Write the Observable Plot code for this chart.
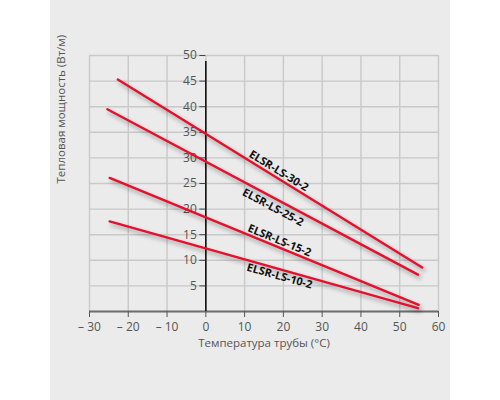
<!DOCTYPE html>
<html>
<head>
<meta charset="utf-8">
<script src="https://cdn.jsdelivr.net/npm/d3@7"></script>
<script src="https://cdn.jsdelivr.net/npm/@observablehq/plot@0.6"></script>
<style>
  html, body { margin: 0; padding: 0; background: #ffffff; }
  #chart { width: 500px; height: 400px; }
</style>
</head>
<body>
<div id="chart"></div>
<script>
// ---- data ----
const seriesNames = ["ELSR-LS-30-2", "ELSR-LS-25-2", "ELSR-LS-15-2", "ELSR-LS-10-2"];
const startTemp  = [-22.7, -25.4, -24.8, -24.8];
const startPower = [45.3, 39.5, 26.1, 17.6];
const endTemp    = [55.8, 54.7, 54.9, 54.7];
const endPower   = [8.6, 7.2, 1.3, 0.65];
const labelTemp  = [18.8, 17.3, 19.0, 19.0];
const xTicks = [-30, -20, -10, 0, 10, 20, 30, 40, 50, 60];
const yTicks = [5, 10, 15, 20, 25, 30, 35, 40, 45, 50];
const gridY  = [0, 5, 10, 15, 20, 25, 30, 35, 40, 45, 50];
const xLabel = "Температура трубы (°C)";
const yLabel = "Тепловая мощность (Вт/м)";

// ---- layout ----
const W = 500, H = 400;
const mL = 89, mR = 62, mT = 55, mB = 89;
const kx = (W - mL - mR) / 90;   // px per °C
const ky = (H - mT - mB) / 50;   // px per W/m
const labelDy = [-8, 10, -7, 7];

const lineRows = seriesNames.flatMap((name, i) => [
  {name, t: startTemp[i], p: startPower[i]},
  {name, t: endTemp[i], p: endPower[i]}
]);

const labelMarks = seriesNames.map((name, i) => {
  const slope = (endPower[i] - startPower[i]) / (endTemp[i] - startTemp[i]);
  const p = startPower[i] + slope * (labelTemp[i] - startTemp[i]);
  const angle = Math.atan(-slope * ky / kx) * 180 / Math.PI;
  return Plot.text([{name, t: labelTemp[i], p}], {
    x: "t", y: "p", text: "name", rotate: angle, dy: labelDy[i],
    fill: "#111", fontSize: 11, fontWeight: 700, textAnchor: "middle"
  });
});

const fmt = d => d < 0 ? "\u2013 " + Math.abs(d) : String(d);

const chart = Plot.plot({
  width: W, height: H,
  marginLeft: mL, marginRight: mR, marginTop: mT, marginBottom: mB,
  x: {domain: [-30, 60], ticks: xTicks, label: null},
  y: {domain: [0, 50], axis: null, label: null},
  style: {
    fontFamily: "'Open Sans', sans-serif",
    background: "linear-gradient(to right, #fff 50px, #ebebeb 50px, #ebebeb 450px, #fff 450px)",
    overflow: "visible"
  },
  marks: [
    Plot.ruleX(xTicks, {stroke: "#c9c9c9", strokeWidth: 1.4}),
    Plot.ruleY(gridY, {stroke: "#c9c9c9", strokeWidth: 1.4}),
    Plot.ruleY([0], {stroke: "#6e6e6e", strokeWidth: 2}),
    Plot.ruleX([0], {y1: 0, y2: 50, stroke: "#111", strokeWidth: 1.6, insetBottom: -6}),
    Plot.ruleY(yTicks, {x1: 0, x2: 0, insetLeft: -6, stroke: "#444", strokeWidth: 1}),
    Plot.text(yTicks, {x: 0, y: d => d, text: d => String(d), textAnchor: "end", dx: -9, fill: "#555", fontSize: 12}),
    Plot.axisX(xTicks, {tickFormat: fmt, tickSize: 6, stroke: "#555", fill: "#555", fontSize: 12, label: null, tickPadding: 5}),
    Plot.text([xLabel], {frameAnchor: "bottom", dy: 35, fill: "#555", fontSize: 11.5}),
    Plot.text([yLabel], {frameAnchor: "left", rotate: -90, dx: -28, fill: "#555", fontSize: 11.5}),
    Plot.line(lineRows, {x: "t", y: "p", z: "name", stroke: "#e5102c", strokeWidth: 2.4}),
    ...labelMarks
  ]
});

d3.select(chart).selectAll('g[aria-label="line"] path')
  .style("filter", "drop-shadow(2px 3px 2px rgba(0,0,0,0.35))");

document.getElementById("chart").appendChild(chart);
</script>
</body>
</html>
